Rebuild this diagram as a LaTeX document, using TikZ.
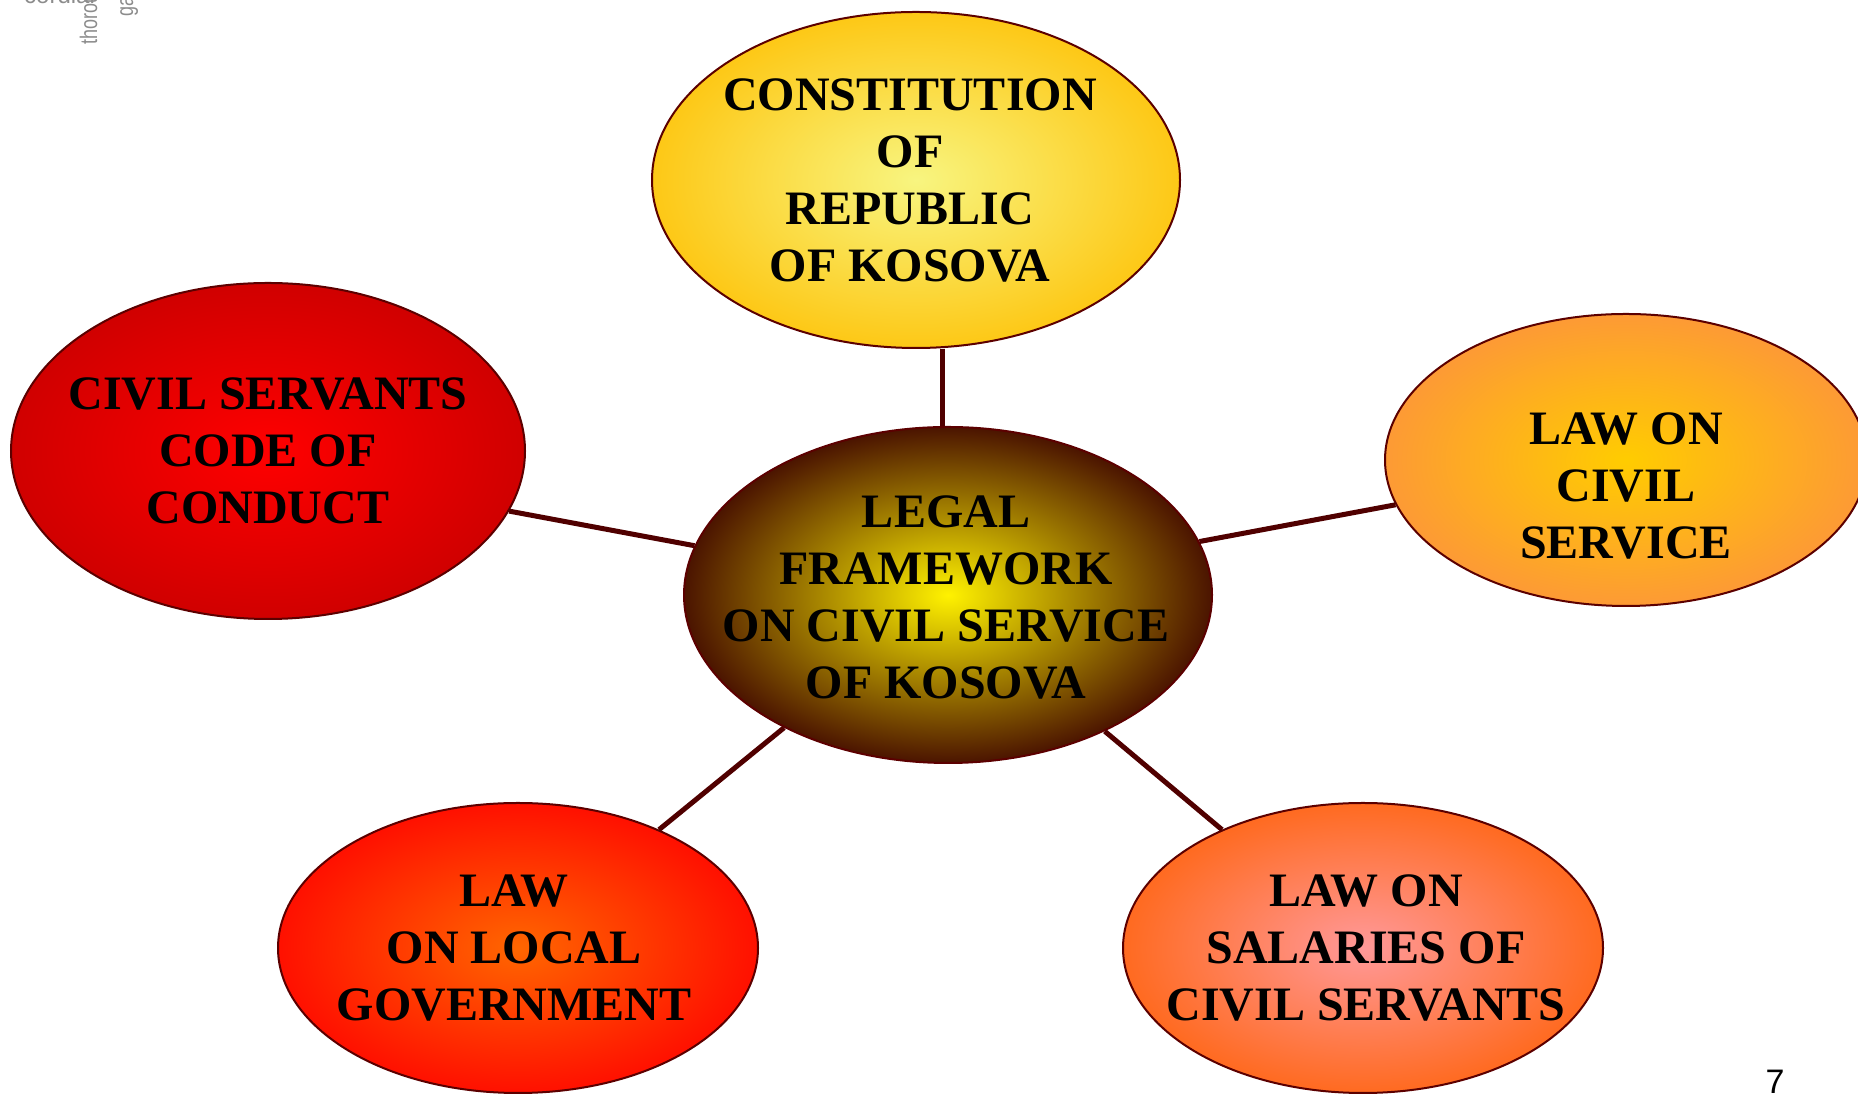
\documentclass[tikz,border=0pt]{standalone}
\usepackage{fontspec}
\setmainfont{Liberation Serif}
\newfontfamily\sansf{Liberation Sans}
\usetikzlibrary{shapes.geometric}
\definecolor{bord}{RGB}{92,0,0}
\definecolor{linkc}{RGB}{80,0,0}
\definecolor{consin}{RGB}{248,245,128}
\definecolor{consout}{RGB}{253,200,22}
\definecolor{ctrin}{RGB}{255,242,0}
\definecolor{ctrout}{RGB}{75,20,0}
\definecolor{civin}{RGB}{255,0,0}
\definecolor{civout}{RGB}{208,0,0}
\definecolor{lcsin}{RGB}{255,204,0}
\definecolor{lcsout}{RGB}{253,154,53}
\definecolor{locin}{RGB}{255,102,0}
\definecolor{locout}{RGB}{255,16,0}
\definecolor{salin}{RGB}{255,153,153}
\definecolor{salout}{RGB}{255,106,32}
\definecolor{fragc}{RGB}{140,140,140}
\begin{document}
\begin{tikzpicture}[x=1pt,y=1pt,
  bub/.style={ellipse, draw=bord, line width=2pt, inner sep=0pt},
  btext/.style={align=center, inner sep=0pt, font=\bfseries\fontsize{48}{57}\selectfont},
  link/.style={draw=linkc, line width=5pt},
  frag/.style={text=fragc, inner sep=0pt, font=\sansf\fontsize{24}{24}\selectfont}]
\useasboundingbox (0,0) rectangle (1858,1094);
\clip (0,0) rectangle (1858,1094);
% fragments top-left
\node[frag, anchor=base west] (f1) at (24,1090) {cordial};
\node[frag, rotate=90, anchor=base west] (f2) at (97,1049) {\scalebox{0.75}[1]{thorough}};
\node[frag, rotate=90, anchor=base west] (f3) at (133,1077) {\scalebox{0.75}[1]{gained}};
% ellipses
\node[bub, minimum width=528, minimum height=336, inner color=consin, outer color=consout] (cons) at (916,914) {};
\node[btext] (const) at (910,914) {CONSTITUTION\\OF\\REPUBLIC\\OF KOSOVA};
\node[bub, minimum width=528, minimum height=336, inner color=ctrin, outer color=ctrout] (ctr) at (948,499) {};
\node[btext] (ctrt) at (946,497) {LEGAL\\FRAMEWORK\\ON CIVIL SERVICE\\OF KOSOVA};
\node[bub, minimum width=514, minimum height=336, inner color=civin, outer color=civout] (civ) at (268,643) {};
\node[btext] (civt) at (268,643) {CIVIL SERVANTS\\CODE OF\\CONDUCT};
\node[bub, minimum width=482, minimum height=292, inner color=lcsin, outer color=lcsout] (lcs) at (1626,634) {};
\node[btext] (lcst) at (1626,608) {LAW ON\\CIVIL\\SERVICE};
\node[bub, minimum width=480, minimum height=290, inner color=locin, outer color=locout] (loc) at (518,146) {};
\node[btext] (loct) at (514,146) {LAW\\ON LOCAL\\GOVERNMENT};
\node[bub, minimum width=480, minimum height=290, inner color=salin, outer color=salout] (sal) at (1363,146) {};
\node[btext] (salt) at (1366,146) {LAW ON\\SALARIES OF\\CIVIL SERVANTS};
% connectors
\draw[link] (ctr.92) -- (ctr.92 |- cons.south);
\draw[link] (ctr.169) -- (civ.-14);
\draw[link] (ctr.12) -- (lcs.191);
\draw[link] (ctr.219) -- (loc.40);
\draw[link] (ctr.-41) -- (sal.140);
% page number
\node[inner sep=0pt, anchor=base, font=\sansf\fontsize{34}{34}\selectfont] (pg) at (1775,0) {7};
\end{tikzpicture}
\end{document}
